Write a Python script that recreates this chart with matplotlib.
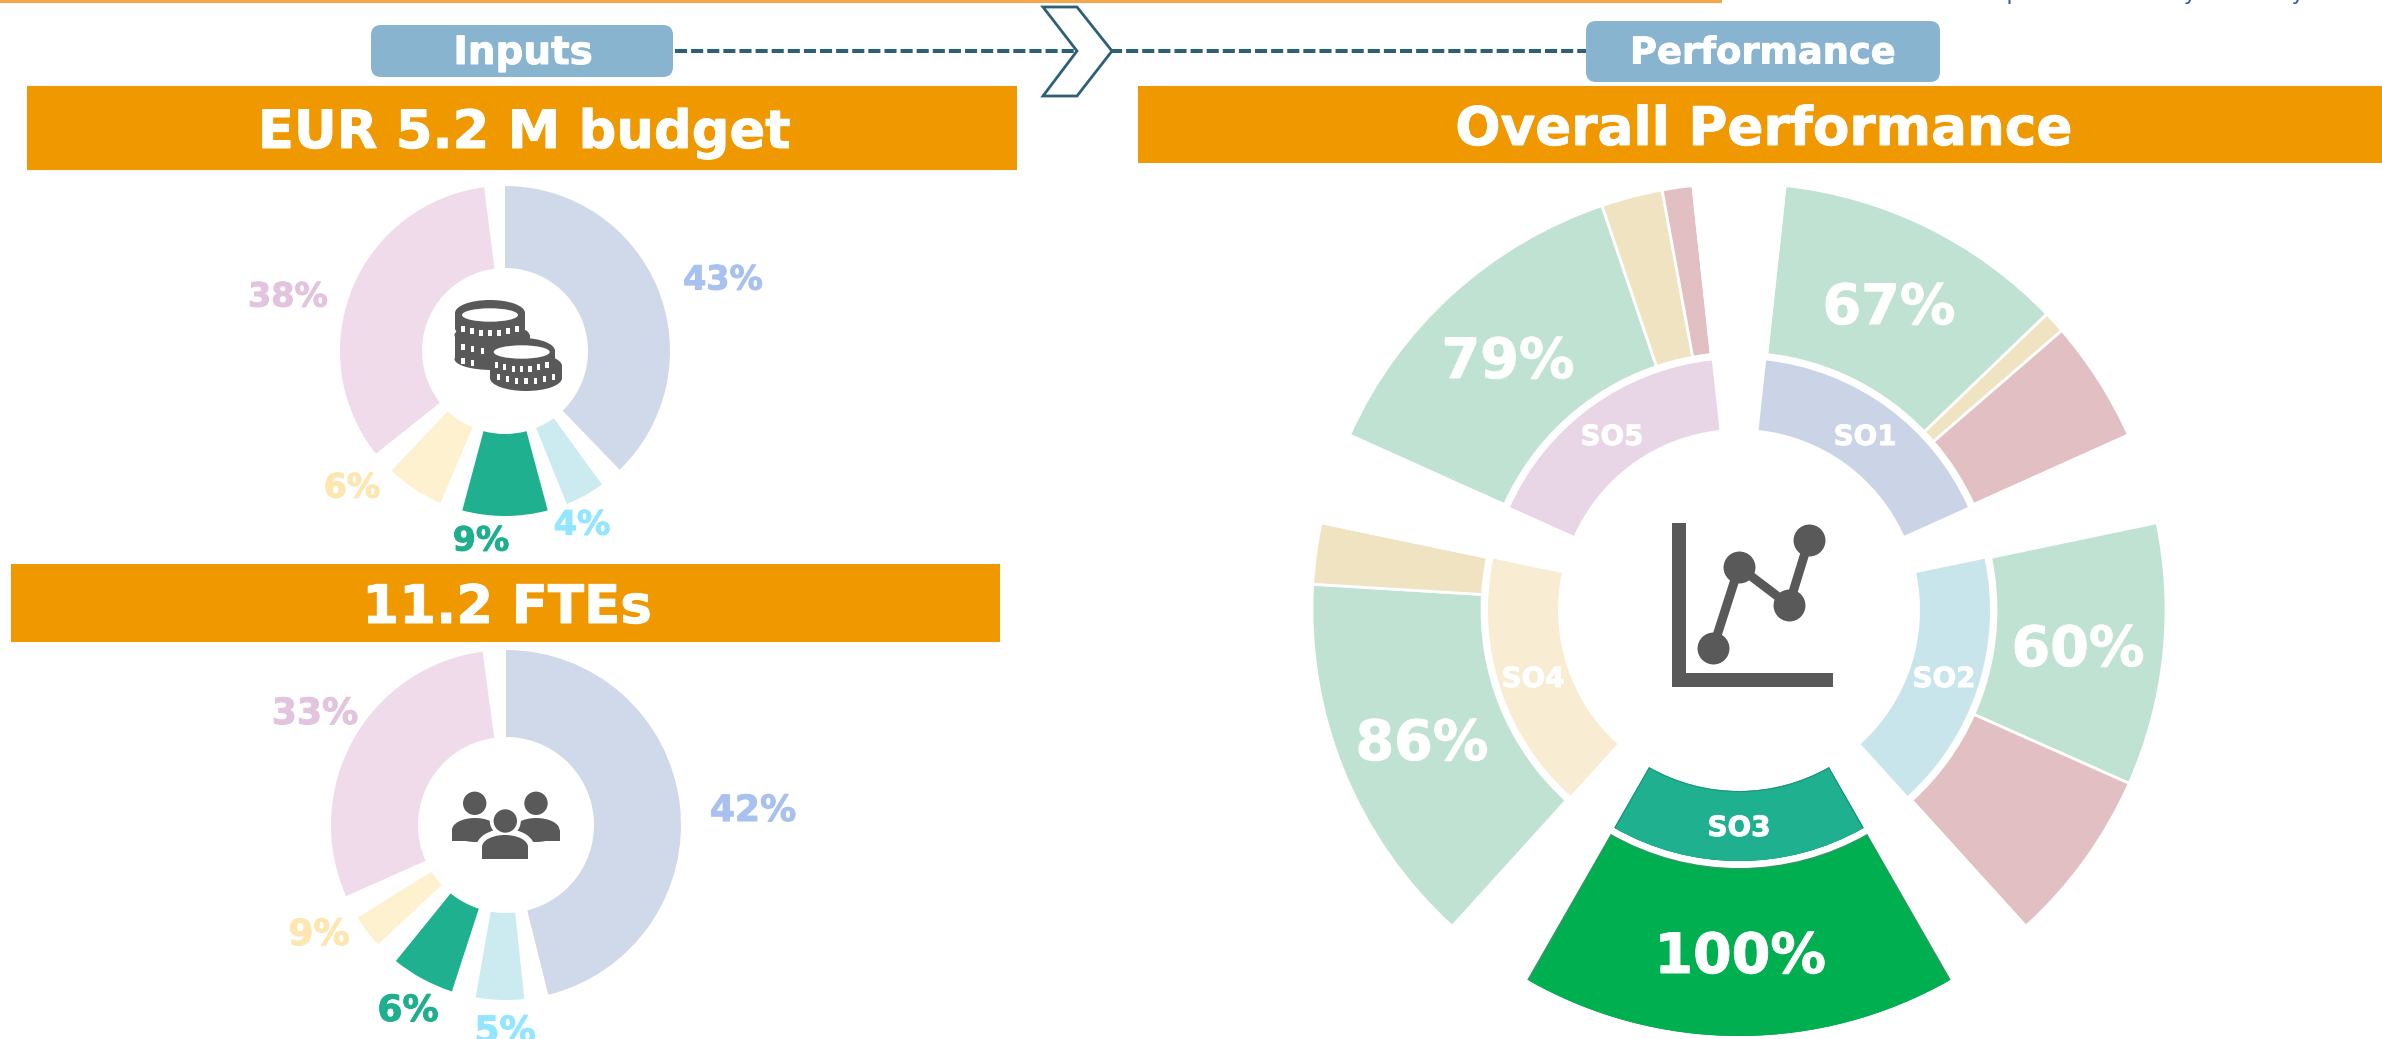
import matplotlib
matplotlib.use('Agg')
import matplotlib.pyplot as plt
import matplotlib.patheffects as pe
from matplotlib.patches import Rectangle, FancyBboxPatch, Polygon, Ellipse

W, H = 2382, 1039

# budget donut, sweep of every slice in degrees
budget_sweep = [136, 14, 30, 20.5, 121.2]
budget_gaps = [8, 7, 8, 8, 7.3]
budget_labels = ['43%', '4%', '9%', '6%', '38%']

# FTE donut
fte_sweep = [166, 16, 21, 11, 106.3]
fte_gaps = [8, 8, 8, 8, 7.7]
fte_labels = ['42%', '5%', '6%', '9%', '33%']

# performance, share of each objective: green / yellow / red
so_names = ['SO1', 'SO2', 'SO3', 'SO4', 'SO5']
so_green = [67, 60, 100, 86, 79]
so_yellow = [5, 0, 0, 14, 14]
so_red = [28, 40, 0, 0, 7]
so_sweep = 59.6
so_gap = 12.4

donut_colors = ['#D0D9EA', '#CCEBF1', '#1FB08F', '#FEF1D0', '#EFDBEA']
label_colors = ['#A9C1EE', '#93E6FF', '#1FAF8F', '#FDE6B0', '#E3C4DE']
so_colors = ['#CBD4E6', '#C9E5EC', '#1FB08F', '#F8ECD2', '#E8D6E6']
pale_green = '#C0E2D3'
pale_yellow = '#EFE3C2'
pale_red = '#E2BFC3'
strong_green = '#00AF50'
orange = '#F09800'
button = '#88B4CF'
teal = '#2B6077'
icon = '#595959'


def fy(y):
    # picture pixels run downwards, the axes upwards
    return H - y


def label(x, y, txt, col, size):
    t = ax.text(x, fy(y), txt, color=col, fontsize=size, fontweight='bold', ha='center', va='center', zorder=5)
    t.set_path_effects([pe.withStroke(linewidth=0.7, foreground=col)])


def ring(vals, cols, cx, cy, r, width, start=90, edge=None, lw=0):
    ax.pie(vals, colors=cols, center=(cx, fy(cy)), radius=r, startangle=start,
           counterclock=False, frame=True,
           wedgeprops=dict(width=width, edgecolor=edge if edge else 'none', linewidth=lw))


def with_gaps(sweep, gaps, cols):
    vals, c = [], []
    for s, g, col in zip(sweep, gaps, cols):
        vals += [s, g]
        c += [col, 'none']
    return vals, c


def bar(x0, x1, y0, y1, txt, tx, ty, size):
    ax.add_patch(Rectangle((x0, fy(y1)), x1 - x0, y1 - y0, color=orange, lw=0))
    label(tx, ty, txt, 'white', size)


def btn(x0, x1, y0, y1, txt, tx, ty, size):
    ax.add_patch(FancyBboxPatch((x0 + 10, fy(y1) + 10), x1 - x0 - 20, y1 - y0 - 20,
                                boxstyle='round,pad=10,rounding_size=10', color=button, lw=0))
    label(tx, ty, txt, 'white', size)


def tier(cx, ytop, rx, ry, depth):
    ax.add_patch(Ellipse((cx, fy(ytop + depth)), 2 * rx, 2 * ry, color=icon, lw=0))
    ax.add_patch(Rectangle((cx - rx, fy(ytop + depth)), 2 * rx, depth, color=icon, lw=0))
    ax.add_patch(Ellipse((cx, fy(ytop)), 2 * rx, 2 * ry, color=icon, lw=0))


def notches(cx, yc, rx, ks):
    # small white squares along the lower rim of a coin
    for k in ks:
        dx = k * rx / 3.9
        y = yc - 7 * (dx / rx) ** 2
        ax.add_patch(Rectangle((cx + dx - 1.7, fy(y + 3)), 3.4, 6, color='white', lw=0))


def person(cx, yhead, x0, x1, ytop, ybot):
    ax.add_patch(Ellipse((cx, fy(yhead)), 23.4, 23.4, color=icon, lw=0))
    w = x1 - x0
    ax.add_patch(Ellipse(((x0 + x1) / 2, fy(ytop + 12)), w, 24, color=icon, lw=0))
    ax.add_patch(Rectangle((x0, fy(ybot)), w, ybot - ytop - 12, color=icon, lw=0))


fig = plt.figure(figsize=(W / 100, H / 100), dpi=100)
ax = fig.add_axes([0, 0, 1, 1])

# header strip, the logo text is cut by the top edge
ax.add_patch(Rectangle((0, fy(3)), 1722, 3, color='#F5A54A', lw=0))
ax.text(2304, fy(0), 'European Food Safety Authority', color='#2B5DA8', fontsize=15.7,
        ha='right', va='baseline')

bar(27, 1017, 86, 170, 'EUR 5.2 M budget', 524, 133, 38)
bar(11, 1000, 564, 642, '11.2 FTEs', 507, 608, 38.2)
bar(1138, 2382, 86, 163, 'Overall Performance', 1764, 130, 38.3)

# dashed connection and chevron
ax.plot([675, 1586], [fy(51), fy(51)], color=teal, lw=2.9, ls=(0, (3, 1)))
ax.add_patch(Polygon([(1043, fy(7)), (1077, fy(7)), (1112, fy(51)), (1077, fy(96)), (1043, fy(96)), (1077, fy(51))],
                     closed=True, facecolor='white', edgecolor=teal, lw=2, zorder=3))
btn(371, 673, 25, 77, 'Inputs', 523, 53, 28)
btn(1586, 1940, 21, 82, 'Performance', 1763, 53, 26.5)

# budget donut
vals, cols = with_gaps(budget_sweep, budget_gaps, donut_colors)
ring(vals, cols, 505, 351, 165, 82)
budget_pos = [(723, 280), (582, 525), (481, 541), (352, 488), (288, 297)]
for txt, c, p in zip(budget_labels, label_colors, budget_pos):
    label(p[0], p[1], txt, c, 24)

# FTE donut
vals, cols = with_gaps(fte_sweep, fte_gaps, donut_colors)
ring(vals, cols, 506, 825, 175, 87)
fte_pos = [(753, 811), (505, 1032), (408, 1011), (319, 935), (315, 714)]
for txt, c, p in zip(fte_labels, label_colors, fte_pos):
    label(p[0], p[1], txt, c, 26)

# coin icon
tier(490, 313, 35, 13, 15)
tier(492, 335, 37.5, 11, 24)
ax.add_patch(Ellipse((490, fy(315)), 56, 13.4, color='white', lw=0))
notches(490, 333, 35, range(-3, 4))
notches(492, 351, 37.5, range(-3, 0))
notches(492, 365, 37.5, range(-3, -1))
tier(522, 351, 33, 13, 15)
tier(526, 366, 36, 13, 12)
ax.add_patch(Ellipse((521.7, fy(352)), 56, 13.4, color='white', lw=0))
notches(521.7, 369, 33, range(-3, 4))
notches(526, 381, 36, range(-3, 4))

# people icon
person(474.7, 803.3, 452, 498, 818, 841)
person(536, 803.3, 513, 559.5, 818, 841)
ax.add_patch(Ellipse((505.3, fy(821)), 31, 31, color='white', lw=0))
ax.add_patch(Ellipse((505.3, fy(847)), 58, 36, color='white', lw=0))
person(505.3, 821, 482, 528, 835, 858.5)

# performance wheel, inner ring one slice per objective
cx, cy = 1739, 610
vals, cols = with_gaps([so_sweep] * 5, [so_gap] * 5, so_colors)
ring(vals, cols, cx, cy, 251, 70, start=83.8)

# outer ring, slices scaled to the sector width
vals, cols = [], []
for g, y, r in zip(so_green, so_yellow, so_red):
    for v, c in zip((g, y, r), (pale_green, pale_yellow, pale_red)):
        if v > 0:
            vals.append(v * so_sweep / 100)
            cols.append(c)
    vals.append(so_gap)
    cols.append('none')
ring(vals, cols, cx, cy, 427, 170, start=83.8, edge='white', lw=2)

# SO3 stands out: darker rim under the full colour slice
so3_start = 83.8 - 2 * (so_sweep + so_gap)
ax.pie([so_sweep, 360 - so_sweep], colors=['#2F9A63', 'none'], center=(cx, fy(cy)), radius=426,
       startangle=so3_start, counterclock=False, frame=True, wedgeprops=dict(width=168))
ax.pie([so_sweep - 0.5, 360 - so_sweep + 0.5], colors=[strong_green, 'none'], center=(cx, fy(cy)), radius=426,
       startangle=so3_start - 0.25, counterclock=False, frame=True, wedgeprops=dict(width=166.5))
ax.pie([so_sweep, 360 - so_sweep], colors=['#1A9479', 'none'], center=(cx, fy(cy)), radius=251,
       startangle=so3_start, counterclock=False, frame=True, wedgeprops=dict(width=70))
ax.pie([so_sweep - 0.6, 360 - so_sweep + 0.6], colors=['#1FB08F', 'none'], center=(cx, fy(cy)), radius=251,
       startangle=so3_start - 0.3, counterclock=False, frame=True, wedgeprops=dict(width=69))

perf_pos = [(1889, 309), (2078, 651), (1740, 958), (1422, 745), (1508, 363)]
for g, p in zip(so_green, perf_pos):
    label(p[0], p[1], f'{g}%', 'white', 40)
so_pos = [(1865, 437), (1944, 679), (1739, 828), (1533, 679), (1612, 437)]
for n, p in zip(so_names, so_pos):
    label(p[0], p[1], n, 'white', 20)

# chart icon in the middle
trend_x = [1713, 1739, 1789, 1809]
trend_y = [648, 567, 605, 540]
ax.add_patch(Rectangle((1671.5, fy(687)), 14.5, 164, color=icon, lw=0))
ax.add_patch(Rectangle((1671.5, fy(687)), 161.5, 14, color=icon, lw=0))
ax.plot(trend_x, [fy(v) for v in trend_y], color=icon, lw=6.5, marker='o', ms=23, mew=0)

ax.set_xlim(0, W)
ax.set_ylim(0, H)
ax.axis('off')
fig.savefig('out.png', dpi=100)
